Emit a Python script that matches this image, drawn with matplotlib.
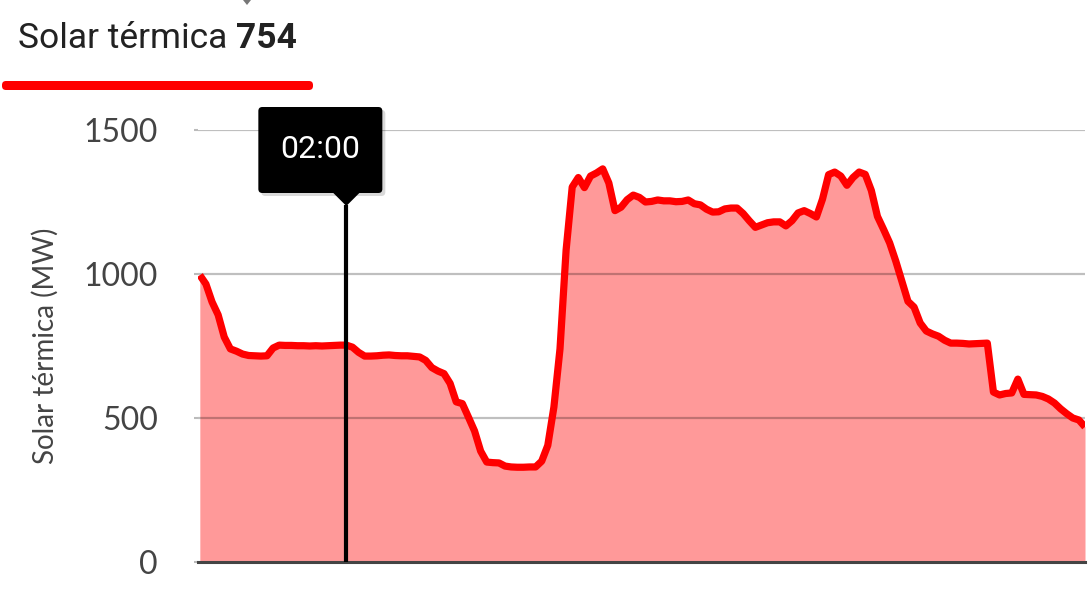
import matplotlib
matplotlib.use("Agg")
import matplotlib.pyplot as plt
from matplotlib.patches import FancyBboxPatch, Polygon
from matplotlib.transforms import IdentityTransform
import numpy as np

# data: solar thermal output (MW), one value every 5 minutes from 00:00
step_min = 5
values = [996, 965, 903, 858, 781, 740, 732, 722, 717, 716,
          715, 716, 743, 753, 752, 752, 751, 751, 750, 751,
          750, 751, 752, 753, 753, 746, 728, 715, 715, 716,
          718, 719, 717, 716, 716, 714, 712, 700, 675, 663,
          654, 620, 556, 550, 503, 455, 385, 347, 345, 344,
          333, 330, 329, 329, 330, 330, 350, 405, 538, 740,
          1083, 1302, 1335, 1300, 1340, 1351, 1365, 1316, 1220, 1232,
          1258, 1274, 1266, 1250, 1252, 1257, 1254, 1254, 1251, 1252,
          1257, 1244, 1240, 1225, 1215, 1216, 1226, 1229, 1229, 1210,
          1185, 1162, 1170, 1178, 1181, 1181, 1167, 1185, 1212, 1220,
          1210, 1198, 1260, 1345, 1354, 1340, 1308, 1335, 1354, 1346,
          1290, 1200, 1155, 1108, 1045, 975, 905, 885, 830, 802,
          792, 784, 770, 760, 760, 759, 757, 758, 759, 760,
          590, 580, 585, 587, 635, 582, 581, 580, 575, 566,
          552, 532, 515, 500, 493, 469]
minutes = np.arange(len(values)) * step_min

cursor_label = "02:00"
cursor_min = 120
series_name = "Solar térmica"
cursor_value = 754
y_label = "Solar térmica (MW)"
y_ticks = [0, 500, 1000, 1500]

W, H = 1091, 595
fig = plt.figure(figsize=(W / 100, H / 100), dpi=100)
ax = fig.add_axes([198 / W, 33 / H, 887 / W, 432 / H])

ax.fill_between(minutes, values, 0, color="#ff9999", lw=0, zorder=1)
ax.plot(minutes, values, color="#ff0000", lw=5.2, solid_joinstyle="round",
        solid_capstyle="butt", zorder=3)

for t in y_ticks[1:]:
    ax.axhline(t, color="black", alpha=0.25, lw=1.6, zorder=2)
ax.axhline(0, color="#444444", lw=2.2, zorder=4, clip_on=False)

ax.set_xlim(minutes[0] - 1.5, minutes[-1])
ax.set_ylim(0, 1500)
ax.set_yticks(y_ticks)
ax.set_xticks([])
for s in ax.spines.values():
    s.set_visible(False)
ax.tick_params(axis="y", length=3, width=1.5, color="#bbbbbb", pad=26,
               labelsize=23, labelcolor="#444444")
for lab in ax.get_yticklabels():
    lab.set_family("Lato")
ax.set_ylabel(y_label, fontsize=20, color="#444444", family="Lato",
              labelpad=18)

# cursor line
ax.plot([cursor_min, cursor_min], [0, 1240], color="black", lw=3, zorder=5,
        solid_capstyle="butt")

# tooltip box in pixel coords (box sits a bit left of the pointer)
px = ax.transData.transform((cursor_min, 0))[0]
bw, bh = 124, 86
bx, by = px - 88, H - 193
ident = IdentityTransform()
shadow = FancyBboxPatch((bx + 3, by - 3), bw, bh, boxstyle="round,pad=0,rounding_size=4",
                        fc="#000000", ec="none", alpha=0.15, transform=ident)
box = FancyBboxPatch((bx, by), bw, bh, boxstyle="round,pad=0,rounding_size=4",
                     fc="black", ec="none", transform=ident)
tri = Polygon([[px - 14, by + 1], [px + 14, by + 1], [px, by - 13]],
              closed=True, fc="black", ec="none", transform=ident)
for p in (shadow, box, tri):
    fig.add_artist(p)
fig.text((bx + bw / 2) / W, (by + bh / 2) / H, cursor_label, color="white",
         fontsize=23, family="Roboto", ha="center", va="center")

# header
t1 = fig.text(18 / W, (H - 48) / H, series_name + " ", fontsize=25.5,
              family="Roboto", color="#222222", ha="left", va="baseline")
r = fig.canvas.get_renderer()
ext = t1.get_window_extent(r)
fig.text(ext.x1 / W, (H - 48) / H, str(cursor_value), fontsize=25.5,
         family="Roboto", weight="bold", color="#222222", ha="left", va="baseline")
fig.add_artist(FancyBboxPatch((2, H - 90), 311, 9,
                              boxstyle="round,pad=0,rounding_size=4",
                              fc="#ff0000", ec="none", transform=ident))
fig.add_artist(Polygon([[243, H], [251, H], [247, H - 5]], closed=True,
                       fc="#777777", ec="none", transform=ident))

fig.savefig("out.png", dpi=100)
